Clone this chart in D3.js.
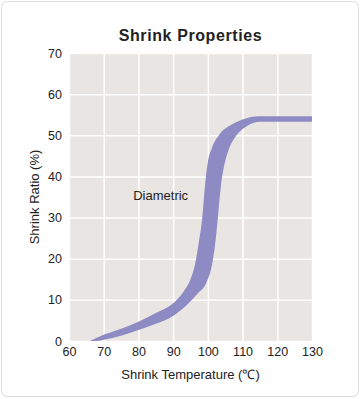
<!DOCTYPE html>
<html><head><meta charset="utf-8">
<script src="https://cdn.jsdelivr.net/npm/d3@7"></script>
<style>
html,body{margin:0;padding:0;background:#fff;}
svg{display:block;font-family:"Liberation Sans",Arial,Helvetica,sans-serif;}
</style></head>
<body><svg id="chart" width="360" height="399"></svg>
<script>
const title = "Shrink Properties";
const xTitle = "Shrink Temperature (℃)";
const yTitle = "Shrink Ratio (%)";
const xTicks = [60,70,80,90,100,110,120,130];
const yTicks = [0,10,20,30,40,50,60,70];
// upper/left boundary of the band: [temperature, ratio]
const upperEdge = [[66,0],[70,1.5],[75,3],[80,4.7],[85,6.8],[90,9.2],[93,12],[95,15],[96.4,19],[97.4,24],[98.4,30],[99.2,38],[100,43.5],[101.2,47],[103,49.8],[106.9,52.6],[111,54.1],[114.5,54.6],[130,54.6]];
// lower/right boundary of the band
const lowerEdge = [[68,0],[70,0.3],[75,1.3],[80,2.7],[85,4.2],[90,6.1],[94,8.8],[97,11.5],[99.6,14.2],[101.3,19],[102.3,25],[103,31],[103.8,38],[104.8,43],[106,46.5],[108,49.7],[111.2,52.2],[115,53.3],[130,53.3]];
const seriesLabel = {text:"Diametric", x:78.5, y:34.3};

const svg = d3.select("#chart");
const m = {left:69, right:312, top:53, bottom:341};
const x = d3.scaleLinear().domain([60,130]).range([m.left,m.right]);
const y = d3.scaleLinear().domain([0,70]).range([m.bottom,m.top]);

svg.append("rect").attr("x",1.5).attr("y",1.5).attr("width",357).attr("height",395)
  .attr("rx",6).attr("fill","#fff").attr("stroke","#dcdcdc").attr("stroke-width",1);

svg.append("text").attr("x",(m.left+m.right)/2).attr("y",41).attr("text-anchor","middle")
  .attr("font-size",16).attr("font-weight","bold").attr("fill","#222").attr("letter-spacing",0.6).text(title);

svg.append("rect").attr("x",m.left).attr("y",m.top).attr("width",m.right-m.left).attr("height",m.bottom-m.top).attr("fill","#e8e5e2");

const gx = svg.append("g").attr("transform",`translate(0,${m.bottom})`)
  .call(d3.axisBottom(x).tickValues(xTicks).tickSize(-(m.bottom-m.top)).tickPadding(8));
gx.select(".domain").remove();
gx.selectAll(".tick line").attr("stroke","#fff").attr("stroke-width",1.5);
gx.selectAll(".tick text").attr("font-size",12.5).attr("fill","#222").attr("font-family","Liberation Sans, Arial, sans-serif").attr("dy","0.75em").attr("y",6);

const gy = svg.append("g").attr("transform",`translate(${m.left},0)`)
  .call(d3.axisLeft(y).tickValues(yTicks).tickSize(-(m.right-m.left)).tickPadding(7));
gy.select(".domain").remove();
gy.selectAll(".tick line").attr("stroke","#fff").attr("stroke-width",1.5);
gy.selectAll(".tick text").attr("font-size",12.5).attr("fill","#222").attr("font-family","Liberation Sans, Arial, sans-serif");

svg.append("clipPath").attr("id","clip").append("rect")
  .attr("x",m.left).attr("y",m.top).attr("width",m.right-m.left).attr("height",m.bottom-m.top);

const line = d3.line().x(d=>x(d[0])).y(d=>y(d[1])).curve(d3.curveMonotoneX);
const upPath = line(upperEdge);
const lowPath = line(lowerEdge.slice().reverse());
svg.append("path").attr("clip-path","url(#clip)")
  .attr("d", upPath + "L" + lowPath.slice(1) + "Z")
  .attr("fill","#8e8ac3");

svg.append("text").attr("x",x(seriesLabel.x)).attr("y",y(seriesLabel.y))
  .attr("font-size",13).attr("fill","#222").text(seriesLabel.text);

svg.append("text").attr("x",(m.left+m.right)/2).attr("y",379).attr("text-anchor","middle")
  .attr("font-size",13).attr("fill","#222").text(xTitle);
svg.append("text").attr("transform",`translate(39,${(m.top+m.bottom)/2}) rotate(-90)`)
  .attr("text-anchor","middle").attr("font-size",13).attr("fill","#222").text(yTitle);
</script></body></html>
